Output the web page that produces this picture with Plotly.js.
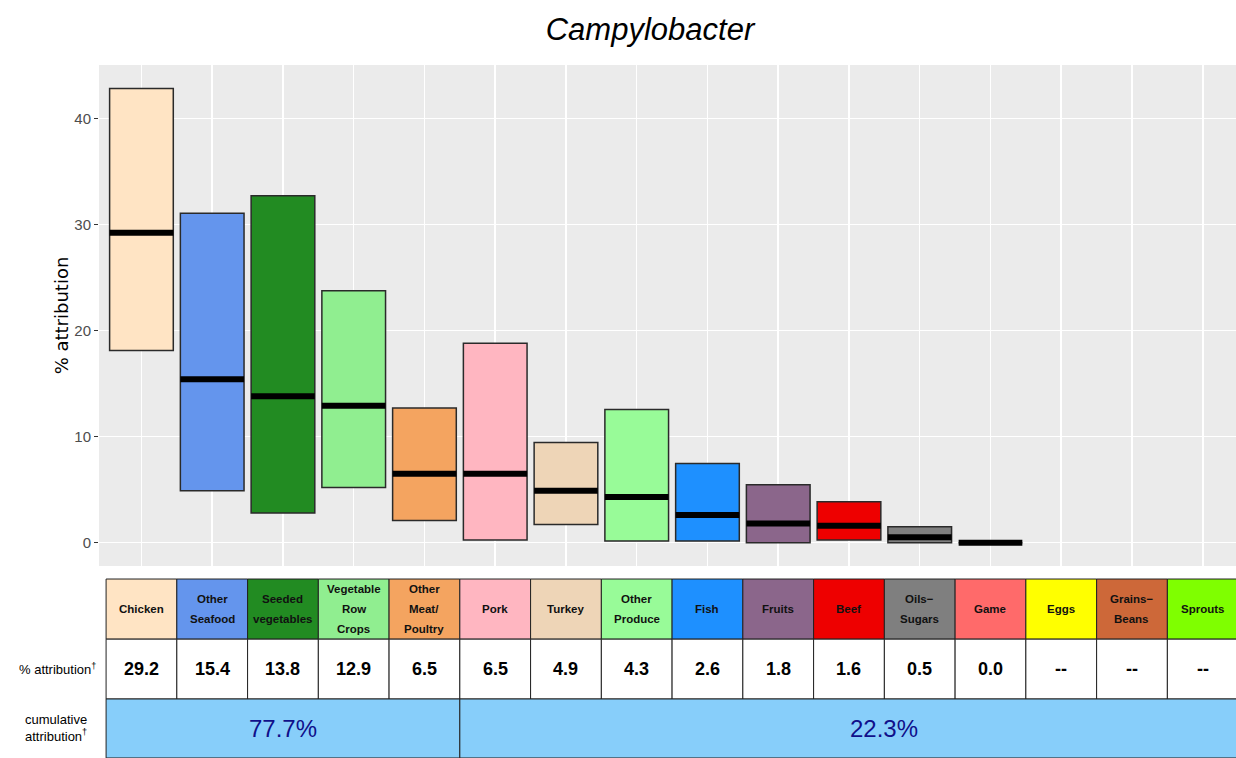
<!DOCTYPE html>
<html><head><meta charset="utf-8">
<script src="https://cdn.plot.ly/plotly-3.0.1.min.js"></script>
<style>html,body{margin:0;padding:0;background:#fff}</style>
</head><body><div id="chart" style="width:1236px;height:758px"></div>
<script>
// ---- data ----
const categories = ["Chicken","Other Seafood","Seeded vegetables","Vegetable Row Crops","Other Meat/ Poultry","Pork","Turkey","Other Produce","Fish","Fruits","Beef","Oils-Sugars","Game","Eggs","Grains-Beans","Sprouts"];
const headerLines = [["Chicken"],["Other","Seafood"],["Seeded","vegetables"],["Vegetable","Row","Crops"],["Other","Meat/","Poultry"],["Pork"],["Turkey"],["Other","Produce"],["Fish"],["Fruits"],["Beef"],["Oils\u2212","Sugars"],["Game"],["Eggs"],["Grains\u2212","Beans"],["Sprouts"]];
const medians = [29.2,15.4,13.8,12.9,6.5,6.5,4.9,4.3,2.6,1.8,1.6,0.5,0.0,null,null,null];
const lows    = [18.1,4.9,2.8,5.2,2.1,0.25,1.7,0.15,0.15,0.0,0.25,0.0,0.0,null,null,null];
const highs   = [42.8,31.05,32.7,23.75,12.7,18.8,9.45,12.55,7.45,5.45,3.85,1.5,0.0,null,null,null];
const valueLabels = ["29.2","15.4","13.8","12.9","6.5","6.5","4.9","4.3","2.6","1.8","1.6","0.5","0.0","--","--","--"];
const colors = ["#FFE4C4","#6495ED","#228B22","#90EE90","#F4A460","#FFB6C1","#EED5B7","#98FB98","#1E90FF","#8B668B","#EE0000","#7F7F7F","#FF6A6A","#FFFF00","#CD6839","#7FFF00"];
const cumulativeLabels = ["77.7%","22.3%"];
const cumulativeStart = [0,5];
const cumulativeEnd = [4,16];
const yTicks = [0,10,20,30,40];

// ---- build ----
const idx = categories.map((c,i)=>i);
const narrow = "Liberation Sans Narrow, Arial Narrow, Liberation Sans, Arial, sans-serif";

const barTrace = {
  type:'bar', x:idx,
  base: lows.map(v=>v),
  y: highs.map((h,i)=> h==null ? null : h - lows[i]),
  width:0.9,
  marker:{color:colors, line:{color:'#2a2a2a', width:1.5}},
  hoverinfo:'skip'
};
const medTrace = {
  type:'scatter', mode:'markers', x:idx, y:medians,
  marker:{symbol:'line-ew', size:45.5, line:{color:'black', width:6}},
  hoverinfo:'skip'
};

// table geometry (paper y)
const rowY = [-0.026, -0.146, -0.2655, -0.3832];
const shapes = [];
const annotations = [];
idx.forEach(i=>{
  shapes.push({type:'rect', xref:'x', yref:'paper', x0:i-0.5, x1:i+0.5, y0:rowY[1], y1:rowY[0],
    fillcolor:colors[i], line:{color:'#222', width:1}, layer:'above'});
  shapes.push({type:'rect', xref:'x', yref:'paper', x0:i-0.5, x1:i+0.5, y0:rowY[2], y1:rowY[1],
    fillcolor:'white', line:{color:'#222', width:1}, layer:'above'});
  const lines = headerLines[i];
  const n = lines.length;
  lines.forEach((t,k)=>{
    annotations.push({xref:'x', yref:'paper', x:i, y:(rowY[0]+rowY[1])/2, yshift:-((k-(n-1)/2)*20),
      text:t, showarrow:false, xanchor:'center', yanchor:'middle',
      font:{family:narrow, size:11.5, weight:'bold', color:'#111'}});
  });
  annotations.push({xref:'x', yref:'paper', x:i, y:(rowY[1]+rowY[2])/2, text:valueLabels[i],
    showarrow:false, xanchor:'center', yanchor:'middle', font:{family:narrow, size:18, weight:'bold', color:'black'}});
});
cumulativeLabels.forEach((t,g)=>{
  shapes.push({type:'rect', xref:'x', yref:'paper', x0:cumulativeStart[g]-0.5, x1:cumulativeEnd[g]+0.5,
    y0:rowY[3], y1:rowY[2], fillcolor:'#87CEFA', line:{color:'#222', width:1}, layer:'above'});
  annotations.push({xref:'x', yref:'paper', x:(cumulativeStart[g]+cumulativeEnd[g])/2, y:(rowY[2]+rowY[3])/2,
    text:t, showarrow:false, xanchor:'center', yanchor:'middle',
    font:{family:narrow, size:24, color:'#10108A'}});
});
annotations.push({xref:'paper', yref:'paper', x:-0.001, y:(rowY[1]+rowY[2])/2, xanchor:'right', yanchor:'middle',
  text:'% attribution<sup>\u2020</sup>', showarrow:false, font:{family:narrow, size:13, color:'black'}});
annotations.push({xref:'paper', yref:'paper', x:-0.009, y:(rowY[2]+rowY[3])/2, xanchor:'right', yanchor:'middle',
  align:'center', text:'cumulative<br>attribution<sup>\u2020</sup>', showarrow:false, font:{family:narrow, size:13, color:'black'}});

const layout = {
  width:1236, height:758,
  margin:{l:99, r:0, t:65, b:192, pad:0},
  paper_bgcolor:'white', plot_bgcolor:'#EBEBEB',
  showlegend:false, bargap:0,
  title:{text:'Campylobacter', font:{family:'Liberation Sans, Arial, sans-serif', size:31, style:'italic', color:'black'},
    x:0.4846, xref:'paper', xanchor:'center', y:0.962, yref:'container', yanchor:'middle'},
  xaxis:{range:[-0.6,15.47], tickvals:idx, showticklabels:false, ticks:'', showgrid:true,
    gridcolor:'white', gridwidth:1.5, zeroline:false, showline:false, fixedrange:true},
  yaxis:{range:[-2.2,45.02], tickvals:yTicks, ticks:'outside', ticklen:4, tickcolor:'#333', tickwidth:1.2,
    tickfont:{family:narrow, size:15, color:'#4D4D4D'}, showgrid:true, gridcolor:'white', gridwidth:1.5,
    zeroline:false, showline:false, fixedrange:true,
    title:{text:'% attribution', font:{family:'DejaVu Sans, Verdana, sans-serif', size:18, color:'black'}, standoff:1}},
  shapes:shapes, annotations:annotations
};
Plotly.newPlot('chart',[barTrace, medTrace], layout, {displayModeBar:false, staticPlot:true});
</script>
</body></html>
